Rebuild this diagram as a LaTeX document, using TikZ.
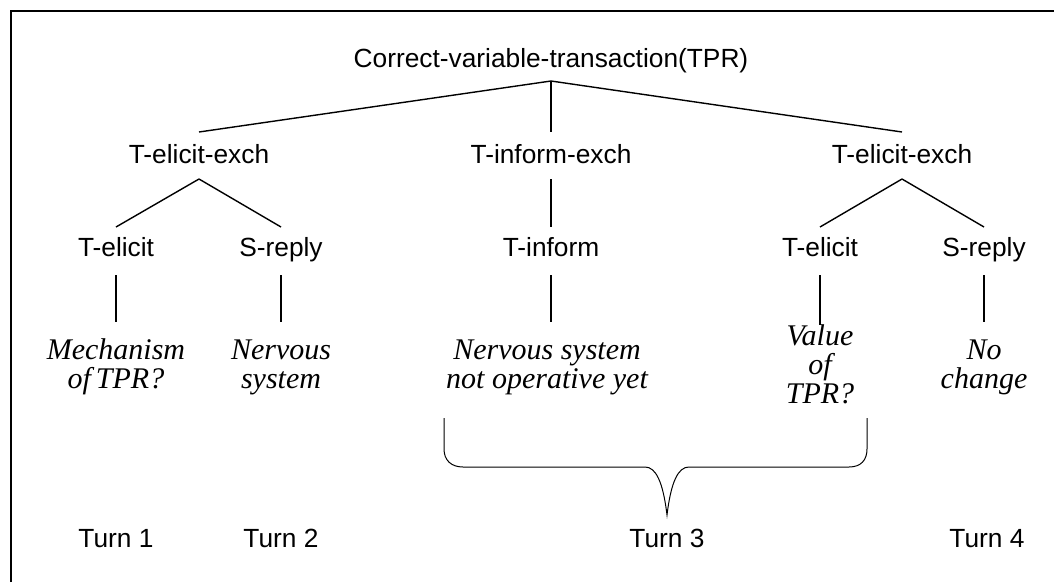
\documentclass[tikz,border=0pt]{standalone}
\usepackage{fontspec}
\setmainfont{Liberation Sans}
\newfontfamily\leafserif{Liberation Serif}
\usetikzlibrary{calc}
% centred lines with a fixed pitch; the box baseline is the first line
\newcommand\leaflines[1]{\vtop{\baselineskip=29pt\lineskiplimit=-\maxdimen
  \halign{\hfil##\hfil\cr#1\crcr}}}
\begin{document}
\begin{tikzpicture}[x=1pt,y=-1pt,
  lbl/.style={font=\fontsize{26.3}{30}\selectfont, anchor=base, inner sep=0pt},
  leaf/.style={font=\leafserif\itshape\fontsize{30}{29}\selectfont, anchor=base, inner sep=0pt},
  edge/.style={line width=1.4pt},
  frame/.style={line width=1.6pt},
  bracket/.style={line width=1pt}]
\useasboundingbox (0,0) rectangle (1054,582);
\fill[white] (0,0) rectangle (1054,582);

% frame (top and left edges)
\draw[frame] (11,582) -- (11,11) -- (1054,11);

% tree labels
\node[lbl] (root) at (551,67)  {Correct-variable-transaction(TPR)};
\node[lbl] (ex1)  at (199,163) {T-elicit-exch};
\node[lbl] (ex2)  at (551,163) {T-inform-exch};
\node[lbl] (ex3)  at (902,163) {T-elicit-exch};
\node[lbl] (el1)  at (116,256) {T-elicit};
\node[lbl] (re1)  at (281,256) {S-reply};
\node[lbl] (inf)  at (551,256) {T-inform};
\node[lbl] (el2)  at (820,256) {T-elicit};
\node[lbl] (re2)  at (984,256) {S-reply};

% utterances
\node[leaf] (u1) at (116,359) {\leaflines{Mechanism\cr of\,TPR?}};
\node[leaf] (u2) at (281,359) {\leaflines{Nervous\cr system}};
\node[leaf] (u3) at (547,359) {\leaflines{Nervous system\cr not operative yet}};
\node[leaf] (u4) at (820,345) {\leaflines{Value\cr of\cr TPR?}};
\node[leaf] (u5) at (984,359) {\leaflines{No\cr change}};

% turns
\node[lbl] (t1) at (116,547) {Turn 1};
\node[lbl] (t2) at (281,547) {Turn 2};
\node[lbl] (t3) at (667,547) {Turn 3};
\node[lbl] (t4) at (987,547) {Turn 4};

% connectors
\foreach \e in {ex1,ex2,ex3}
  \draw[edge] ($(root.base)+(0,14)$) -- ($(\e.base)+(0,-31)$);
\foreach \a/\b in {ex1/el1,ex1/re1,ex2/inf,ex3/el2,ex3/re2}
  \draw[edge] ($(\a.base)+(0,16)$) -- ($(\b.base)+(0,-29)$);
\foreach \a/\b in {el1/u1,re1/u2,inf/u3,re2/u5}
  \draw[edge] ($(\a.base)+(0,19)$) -- ($(\a.base |- \b.base)+(0,-37)$);
\draw[edge] ($(el2.base)+(0,19)$) -- ($(el2.base |- u4.base)+(0,-20)$);

% brace grouping turn 3
\draw[bracket] (444,418) -- (444,449) .. controls (444,460) and (451,467) .. (463,467)
  -- (645,467) .. controls (656,467) and (663,482) .. (667,515)
  .. controls (671,482) and (678,467) .. (689,467)
  -- (849,467) .. controls (861,467) and (867,460) .. (867,449) -- (867,418);
\end{tikzpicture}
\end{document}
